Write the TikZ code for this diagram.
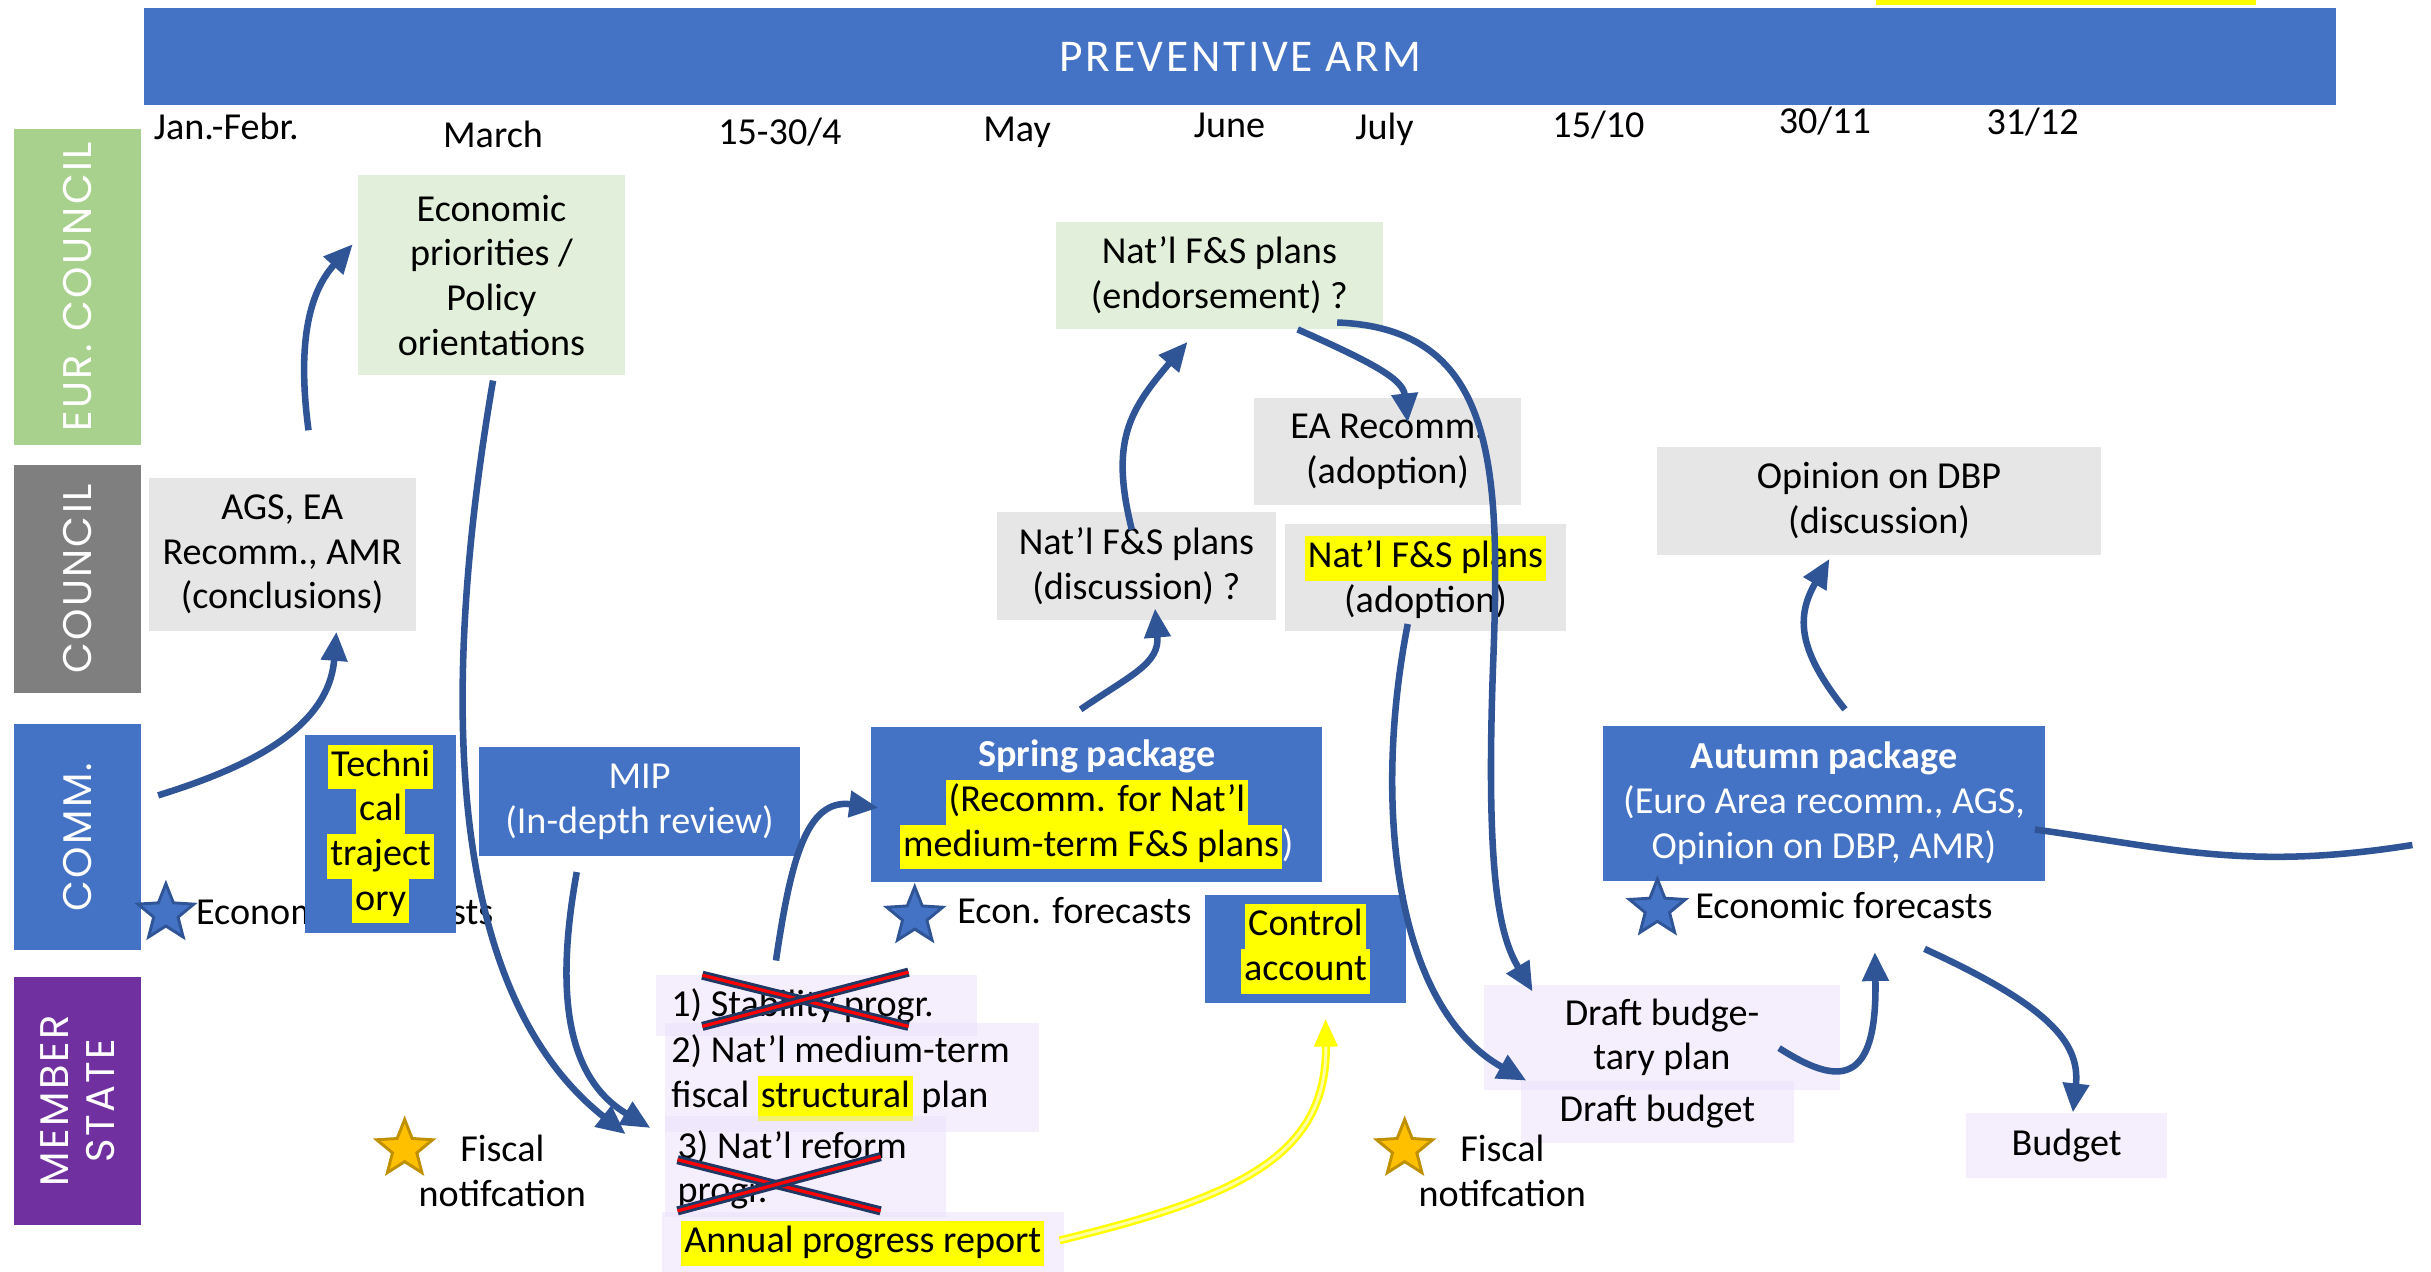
\documentclass[tikz,border=0pt]{standalone}
\usepackage{fontspec}
\setmainfont{Carlito}
\newfontfamily\lanefont[LetterSpace=6]{Poppins}
\newfontfamily\headfont[LetterSpace=6]{Carlito}
\usetikzlibrary{arrows.meta,shapes.geometric}

\newcommand\dpx{0.015cm}
\definecolor{blueA}{HTML}{4472C4}
\definecolor{arrowB}{HTML}{2F5597}
\definecolor{navyX}{HTML}{203864}
\definecolor{greenL}{HTML}{A9D18E}
\definecolor{greenBox}{HTML}{E2EFDA}
\definecolor{greyL}{HTML}{7F7F7F}
\definecolor{greyBox}{HTML}{E7E6E6}
\definecolor{purpL}{HTML}{7030A0}
\definecolor{purpBox}{HTML}{E8DCFA}
\definecolor{hlY}{HTML}{FFFF00}
\definecolor{goldS}{HTML}{FFC000}
\definecolor{goldD}{HTML}{BF9000}

% yellow marker behind a line of text
\newcommand\hlt[1]{{\setlength{\fboxsep}{0pt}\colorbox{hlY}{\strut\kern0.8pt#1\kern0.8pt}}}

\begin{document}
\begin{tikzpicture}[x=0.015cm, y=-0.015cm,
  every node/.style={font=\fontsize{10.5}{12.3}\selectfont, inner sep=0pt},
  sz/.style 2 args={minimum width=#1*\dpx, minimum height=#2*\dpx},
  lane/.style={fill=#1, text=white, rotate=90, align=center,
    font=\lanefont\fontsize{11}{12.6}\selectfont},
  gbox/.style={fill=greenBox, align=center},
  cbox/.style={fill=greyBox, align=center},
  bbox/.style={fill=blueA, text=white, align=center},
  pbox/.style={fill=purpBox, fill opacity=0.45, text opacity=1, align=center},
  plabel/.style={anchor=west, align=left},
  mon/.style={anchor=base},
  bstar/.style={star, star points=5, star point ratio=2.3, fill=blueA,
    draw=arrowB, line width=0.8pt, minimum size=38*\dpx},
  gstar/.style={star, star points=5, star point ratio=2.3, fill=goldS,
    draw=goldD, line width=0.8pt, minimum size=38*\dpx},
  flow/.style={draw=arrowB, line width=1.8pt,
    -{Triangle[length=8pt,width=7pt]}},
  hiflow/.style={draw=hlY, double=hlY!35, double distance=0.8pt,
    line width=0.7pt, -{Triangle[length=7.5pt,width=6.5pt]}},
  strike/.style={draw=navyX, double=red, double distance=0.9pt,
    line width=0.8pt}
]
\useasboundingbox (0,0) rectangle (1568,820);

% banner
\fill[hlY] (1210,0) rectangle (1455,3);
\node[fill=blueA, sz={1414}{63}, text=white,
  font=\headfont\fontsize{12.5}{14}\selectfont] (arm) at (800,36.5) {PREVENTIVE ARM};

% time line
\node[mon] (m1) at (146,90) {Jan.-Febr.};
\node[mon] (m2) at (318,95) {March};
\node[mon] (m3) at (503,93) {15-30/4};
\node[mon] (m4) at (656,91) {May};
\node[mon] (m5) at (793,89) {June};
\node[mon] (m6) at (893,90) {July};
\node[mon] (m7) at (1031,89) {15/10};
\node[mon] (m8) at (1177,86) {30/11};
\node[mon] (m9) at (1311,87) {31/12};

% swim lanes
\node[lane=greenL, sz={204}{82}] (eurc) at (50,185) {EUR.\ COUNCIL};
\node[lane=greyL, sz={147}{82}] (counc) at (50,373.5) {COUNCIL};
\node[lane=blueA, sz={146}{82}] (comm) at (50,540) {COMM.};
\node[lane=purpL, sz={160}{82}] (mstate) at (50,710) {MEMBER\\STATE};

% European Council
\node[gbox, sz={172}{129}] (econ) at (317,177.5)
  {Economic\\priorities /\\Policy\\orientations};
\node[gbox, sz={211}{69}] (endorse) at (786.5,177.5)
  {Nat’l F\&S plans\\(endorsement) ?};

% Council
\node[cbox, sz={172}{99}] (ags) at (182,357.5)
  {AGS, EA\\Recomm., AMR\\(conclusions)};
\node[cbox, sz={172}{69}] (earec) at (895,291.5) {EA Recomm.\\(adoption)};
\node[cbox, sz={180}{70}] (disc) at (733,365) {Nat’l F\&S plans\\(discussion) ?};
\node[cbox, sz={181}{69}] (adopt) at (919.5,372.5) {\hlt{Nat’l F\&S plans}\\(adoption)};
\node[cbox, sz={286}{70}] (opdbp) at (1212,323) {Opinion on DBP\\(discussion)};

% Commission
\node[bstar] (s1) at (107,589) {};
\node[anchor=west] (ef1) at (126,588) {Economic forecasts};
\node[bbox, text=black, sz={97}{128}] (tech) at (245.5,538)
  {\hlt{Techni}\\\hlt{cal}\\\hlt{traject}\\\hlt{ory}};
\node[bbox, sz={207}{70}] (mip) at (412.5,517) {MIP\\(In-depth review)};
\node[bbox, sz={291}{100}] (spring) at (707.5,519)
  {\textbf{Spring package}\\\hlt{\color{black}(Recomm. for Nat’l}\\%
   \hlt{\color{black}medium-term F\&S plans})};
\node[bstar] (s2) at (590,591) {};
\node[anchor=west] (ef2) at (617,587) {Econ. forecasts};
\node[bbox, text=black, sz={130}{70}] (control) at (842,612)
  {\hlt{Control}\\\hlt{account}};
\node[bbox, sz={285}{100}] (autumn) at (1176.5,518)
  {\textbf{Autumn package}\\(Euro Area recomm., AGS,\\Opinion on DBP, AMR)};
\node[bstar] (s3) at (1069,586) {};
\node[anchor=west] (ef3) at (1093,584) {Economic forecasts};

% Member state: boxes, then their left-aligned texts
\node[pbox, sz={207}{39}] (ms1) at (526.5,648.5) {};
\node[plabel] (ms1t) at ([shift={(10,0)}]ms1.west) {1) Stability progr.};
\node[pbox, sz={241}{70}] (ms2) at (549.5,695) {};
\node[plabel] (ms2t) at ([shift={(4,0)}]ms2.west) {2) Nat’l medium-term\\fiscal \hlt{structural} plan};
\node[pbox, sz={181}{65}] (ms3) at (519.5,752.5) {};
\node[plabel] (ms3t) at ([shift={(8,2)}]ms3.west) {3) Nat’l reform\\progr.};
\node[pbox, sz={259}{40}] (apr) at (556.5,802) {\hlt{Annual progress report}};
\node[pbox, sz={230}{68}] (dbp) at (1072,669) {Draft budge-\\tary plan};
\node[pbox, sz={176}{40}] (dbudget) at (1069,717) {Draft budget};
\node[pbox, sz={130}{42}] (budget) at (1333,739) {Budget};
\node[gstar] (g1) at (261,741) {};
\node[align=center] (fn1) at (324,755) {Fiscal\\notifcation};
\node[gstar] (g2) at (906,741) {};
\node[align=center] (fn2) at (969,755) {Fiscal\\notifcation};

% crossed-out programmes
\draw[strike] (453,629) -- (586,662);
\draw[strike] (453,662) -- (586,627);
\draw[strike] (437,748) -- (568,781);
\draw[strike] (437,781) -- (568,746);

% flows
\draw[flow] ([shift={(52,-27)}]comm.center) .. controls (160,495) and (212,470) .. ([shift={(35,0)}]ags.south);
\draw[flow] ([shift={(17,-30)}]ags.north) .. controls (192,225) and (198,190) .. ([shift={(-3,-20)}]econ.west);
\draw[flow] ([shift={(1,3)}]econ.south) .. controls (283,450) and (288,640) .. ([shift={(-25,12)}]ms3.north west);
\draw[flow] ([shift={(-40.5,10)}]mip.south) .. controls (358,640) and (365,695) .. ([shift={(-9,8)}]ms3.north west);
\draw[flow] ([shift={(-26,-9)}]ms1.north) .. controls (510,555) and (520,515) .. ([shift={(5,2)}]spring.west);
\draw[flow] ([shift={(-10.5,-11)}]spring.north) .. controls (730,435) and (748,428) .. ([shift={(12,-8)}]disc.south);
\draw[flow] ([shift={(-3,12)}]disc.north) .. controls (716,285) and (728,265) .. ([shift={(-20.5,8)}]endorse.south);
\draw[flow] ([shift={(50.5,0)}]endorse.south) .. controls (888,235) and (905,245) .. ([shift={(13,16)}]earec.north);
\draw[flow] ([shift={(-30,30.5)}]endorse.east) .. controls (965,212) and (968,300) .. (963,430)
  .. controls (958,570) and (968,605) .. ([shift={(32,5)}]dbp.north west);
\draw[flow] ([shift={(-11.5,-5)}]adopt.south) .. controls (885,520) and (900,650) .. ([shift={(4,-20)}]dbudget.west);
\draw[flow] ([shift={(-40,7)}]dbp.east) .. controls (1185,700) and (1211,702) .. ([shift={(20,21)}]ef3.south);
\draw[flow] ([shift={(13.5,-10)}]autumn.north) .. controls (1160,420) and (1158,398) .. ([shift={(-32,2)}]opdbp.south);
\draw[flow] ([shift={(52,19)}]ef3.south) .. controls (1320,648) and (1342,672) .. ([shift={(4,0)}]budget.north);
\coordinate (rightend) at (1556,545);
\draw[draw=arrowB, line width=1.8pt] ([shift={(-7,17)}]autumn.east) .. controls (1400,547) and (1450,562) .. (rightend);
\draw[hiflow] ([shift={(-3,-2)}]apr.east) .. controls (800,772) and (856,745) .. ([shift={(13,10)}]control.south);
\end{tikzpicture}
\end{document}
